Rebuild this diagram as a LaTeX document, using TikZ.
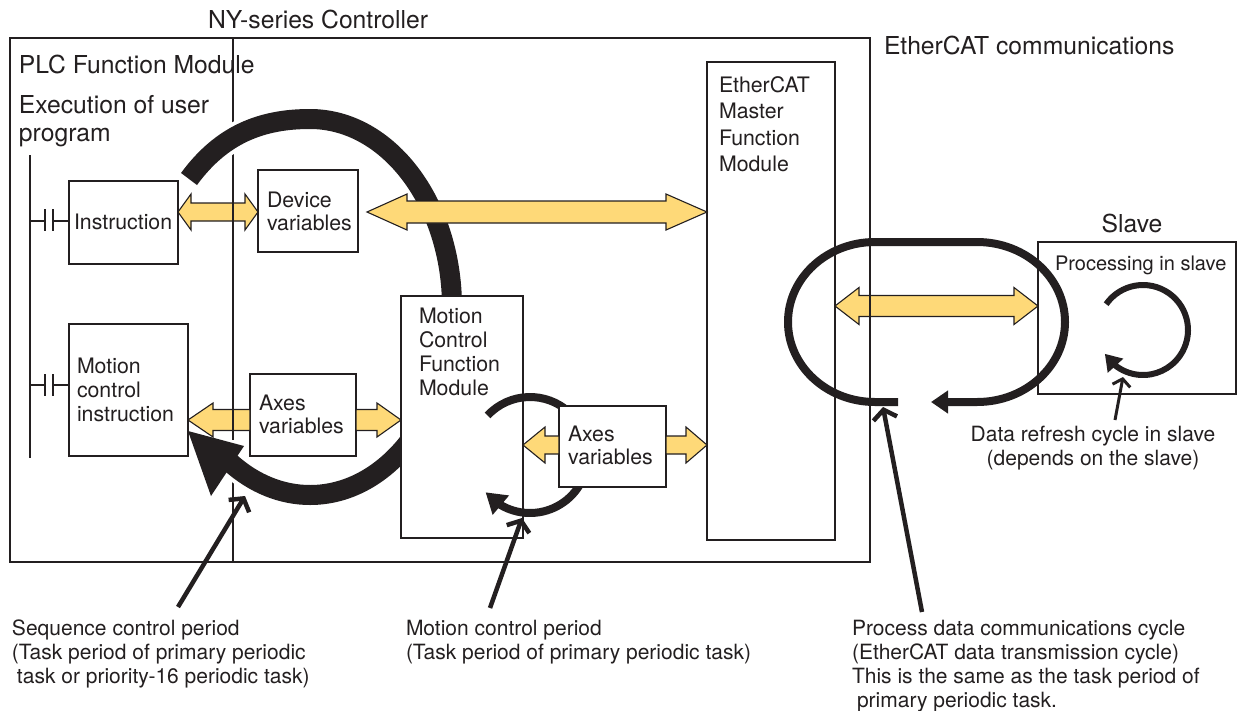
\documentclass[tikz,border=0pt]{standalone}
\usepackage{fontspec}
\setmainfont{TeX Gyre Heros}
\usetikzlibrary{arrows.meta,bending,calc,fit}
\definecolor{ink}{HTML}{231F20}
\definecolor{ylw}{RGB}{254,217,120}
\newcommand\mytitle{\fontsize{24.7}{28}\selectfont}
\newcommand\mymod{\fontsize{21.3}{23}\selectfont}
\newcommand\mymodb{\fontsize{21.3}{24}\selectfont}
\newcommand\myecm{\fontsize{21.3}{26.5}\selectfont}
\newcommand\mynote{\fontsize{21}{24}\selectfont}
\newcommand\myslave{\fontsize{20}{23}\selectfont}
% yellow block arrow: start, end, shaft half, Lleft, hleft, Lright, hright
\newcommand\yarrow[7]{%
  \path[yarr] let \p1=#1, \p2=#2 in
   (\x1,\y1) -- (\x1+#4pt,\y1+#5pt) -- (\x1+#4pt,\y1+#3pt) -- (\x2-#6pt,\y1+#3pt)
   -- (\x2-#6pt,\y1+#7pt) -- (\x2,\y1) -- (\x2-#6pt,\y1-#7pt) -- (\x2-#6pt,\y1-#3pt)
   -- (\x1+#4pt,\y1-#3pt) -- (\x1+#4pt,\y1-#5pt) -- cycle;}
\begin{document}
\begin{tikzpicture}[x=1pt,y=-1pt,
  box/.style={draw=ink, line width=1.8pt, fill=white, inner sep=0pt, outer sep=0pt},
  frameline/.style={draw=ink, line width=1.8pt},
  txt/.style={inner sep=0pt, outer sep=0pt, text=ink, anchor=base west, align=left},
  yarr/.style={fill=ylw, draw=ink, line width=1.1pt, line join=miter},
  ptr/.style={draw=ink, line width=4.5pt, -{Straight Barb[length=9pt,width=24pt]}},
  thinptr/.style={draw=ink, line width=3pt, -{Straight Barb[length=7pt,width=18pt]}}]
\useasboundingbox (0,0) rectangle (1237,710);

% controller frame and divider
\node[fit={(10,38) (870,562)}, draw=ink, line width=1.8pt, inner sep=0pt] (ctrl) {};
\coordinate (divtop) at (233,38);
\coordinate (divbot) at (233,562);
\draw[frameline] (divtop) -- (divbot);

% big sequence-control arc (with white halo)
\def\bigarc{(189,179) .. controls (222,134) and (262,119) .. (310,119)
  arc[start angle=-90,end angle=124,x radius=142,y radius=188]}
\draw[white, line width=28pt] \bigarc;
\filldraw[white, line width=8pt, line join=round] (188,431) -- (244,446) -- (211,496) -- cycle;
\draw[ink, line width=20pt] \bigarc;
\fill[ink] (188,431) -- (244,446) -- (211,496) -- cycle;

% boxes
\node[box, fit={(69,181) (178,264)}] (instr) {};
\node[box, fit={(258,170) (358,252)}] (dev) {};
\node[box, fit={(69,324) (188,456)}] (mci) {};
\node[box, fit={(250,374) (356,456)}] (axa) {};
\node[box, fit={(401,296) (523,538)}] (mcfm) {};
\node[box, fit={(707,62) (835,540)}] (ecm) {};
\node[box, fit={(1038,242) (1236,394)}] (slave) {};

% ladder
\coordinate (railtop) at (30,155);
\coordinate (railbot) at (30,458);
\draw[frameline] (railtop) -- (railbot);
\draw[frameline] (30,221) -- (45,221) (45,209) -- (45,231) (53,209) -- (53,231) (53,221) -- (instr.west |- 0,221);
\draw[frameline] (30,385) -- (45,385) (45,374) -- (45,396) (53,374) -- (53,396) (53,385) -- (mci.west |- 0,385);

% motion control arc
\draw[ink, line width=8pt, -{Triangle[length=20pt,width=24pt]}] (530,455) ++(-137:58) arc[start angle=-137,end angle=140,radius=58];
\node[box, fit={(559,406) (666,487)}] (axb) {};

% yellow arrows
\yarrow{(instr.east |- 0,212)}{(dev.west |- 0,212)}{9}{13}{18}{13}{18}
\yarrow{($(dev.east)+(9,1)$)}{(ecm.west |- 0,212)}{11}{40}{18}{41}{18}
\yarrow{(mci.east |- 0,420)}{(axa.west |- 0,420)}{10.5}{25}{17}{0}{10.5}
\yarrow{(axa.east |- 0,420)}{(mcfm.west |- 0,420)}{10.5}{0}{10.5}{24}{17}
\yarrow{(mcfm.east |- 0,445)}{(axb.west |- 0,445)}{9}{22}{18}{0}{9}
\yarrow{(axb.east |- 0,445)}{(ecm.west |- 0,445)}{9}{0}{9}{21}{18}
\yarrow{(ecm.east |- 0,306)}{(slave.west |- 0,306)}{10.5}{24}{18.5}{24}{18.5}
\draw[frameline] (233,190) -- (233,236) (233,400) -- (233,440) (870,286) -- (870,327);

% EtherCAT communications cycle
\draw[ink, line width=8pt, -{Triangle[length=17pt,width=22pt]}] (898,402) -- (875,402)
  arc[start angle=90,end angle=270,x radius=87,y radius=80] -- (977,242)
  arc[start angle=-90,end angle=90,x radius=88,y radius=80] -- (931,402);

% slave cycle
\draw[ink, line width=6pt, -{Triangle[length=16pt,width=20pt]}] (1143,330) ++(-145:45) arc[start angle=-145,end angle=148,radius=45];

% titles (multi-line nodes: base = last line)
\node[txt,font=\mytitle] (nyt) at (208,28) {NY-series Controller};
\node[txt,font=\mytitle] (plct) at (19,73) {PLC Function Module};
\node[txt,font=\mytitle] (exect) at (19,141) {Execution of user\\program};
\node[txt,font=\mytitle] (ect) at (884,54) {EtherCAT communications};
\node[txt,font=\mytitle,anchor=base] (slt) at (1132,232) {Slave};

% box texts
\node[txt,font=\mymod] (instrt) at (74,229) {Instruction};
\node[txt,font=\mymod] (devt) at (267,230) {Device\\variables};
\node[txt,font=\mymodb] (mcit) at (77,421) {Motion\\control\\instruction};
\node[txt,font=\mymod] (axat) at (259,433) {Axes\\variables};
\node[txt,font=\mymodb] (mcft) at (419,395) {Motion\\Control\\Function\\Module};
\node[txt,font=\mymod] (axbt) at (568,464) {Axes\\variables};
\node[txt,font=\myecm] (ecmt) at (719,171.5) {EtherCAT\\Master\\Function\\Module};
\node[txt,font=\myslave] (proct) at (1055,270) {Processing in slave};

% notes
\node[txt,font=\mynote,align=center,anchor=base] (drt) at (1093,465) {Data refresh cycle in slave\\(depends on the slave)};
\node[txt,font=\mynote] (seqt) at (12,683) {Sequence control period\\(Task period of primary periodic\\\hspace*{5pt}task or priority-16 periodic task)};
\node[txt,font=\mynote] (mott) at (406,659) {Motion control period\\(Task period of primary periodic task)};
\node[txt,font=\mynote] (pdt) at (852,707) {Process data communications cycle\\(EtherCAT data transmission cycle)\\This is the same as the task period of\\\hspace*{5pt}primary periodic task.};

% pointers
\coordinate (seqp) at (178,607);
\coordinate (motp) at (490,608);
\coordinate (pdp) at (922,612);
\coordinate (drp) at (1115,420);
\draw[ptr] (seqp) -- (245,496);
\draw[ptr] (motp) -- (522,518);
\draw[ptr] (pdp) -- (883,407);
\draw[thinptr] (drp) -- (1123,377);
\end{tikzpicture}
\end{document}
